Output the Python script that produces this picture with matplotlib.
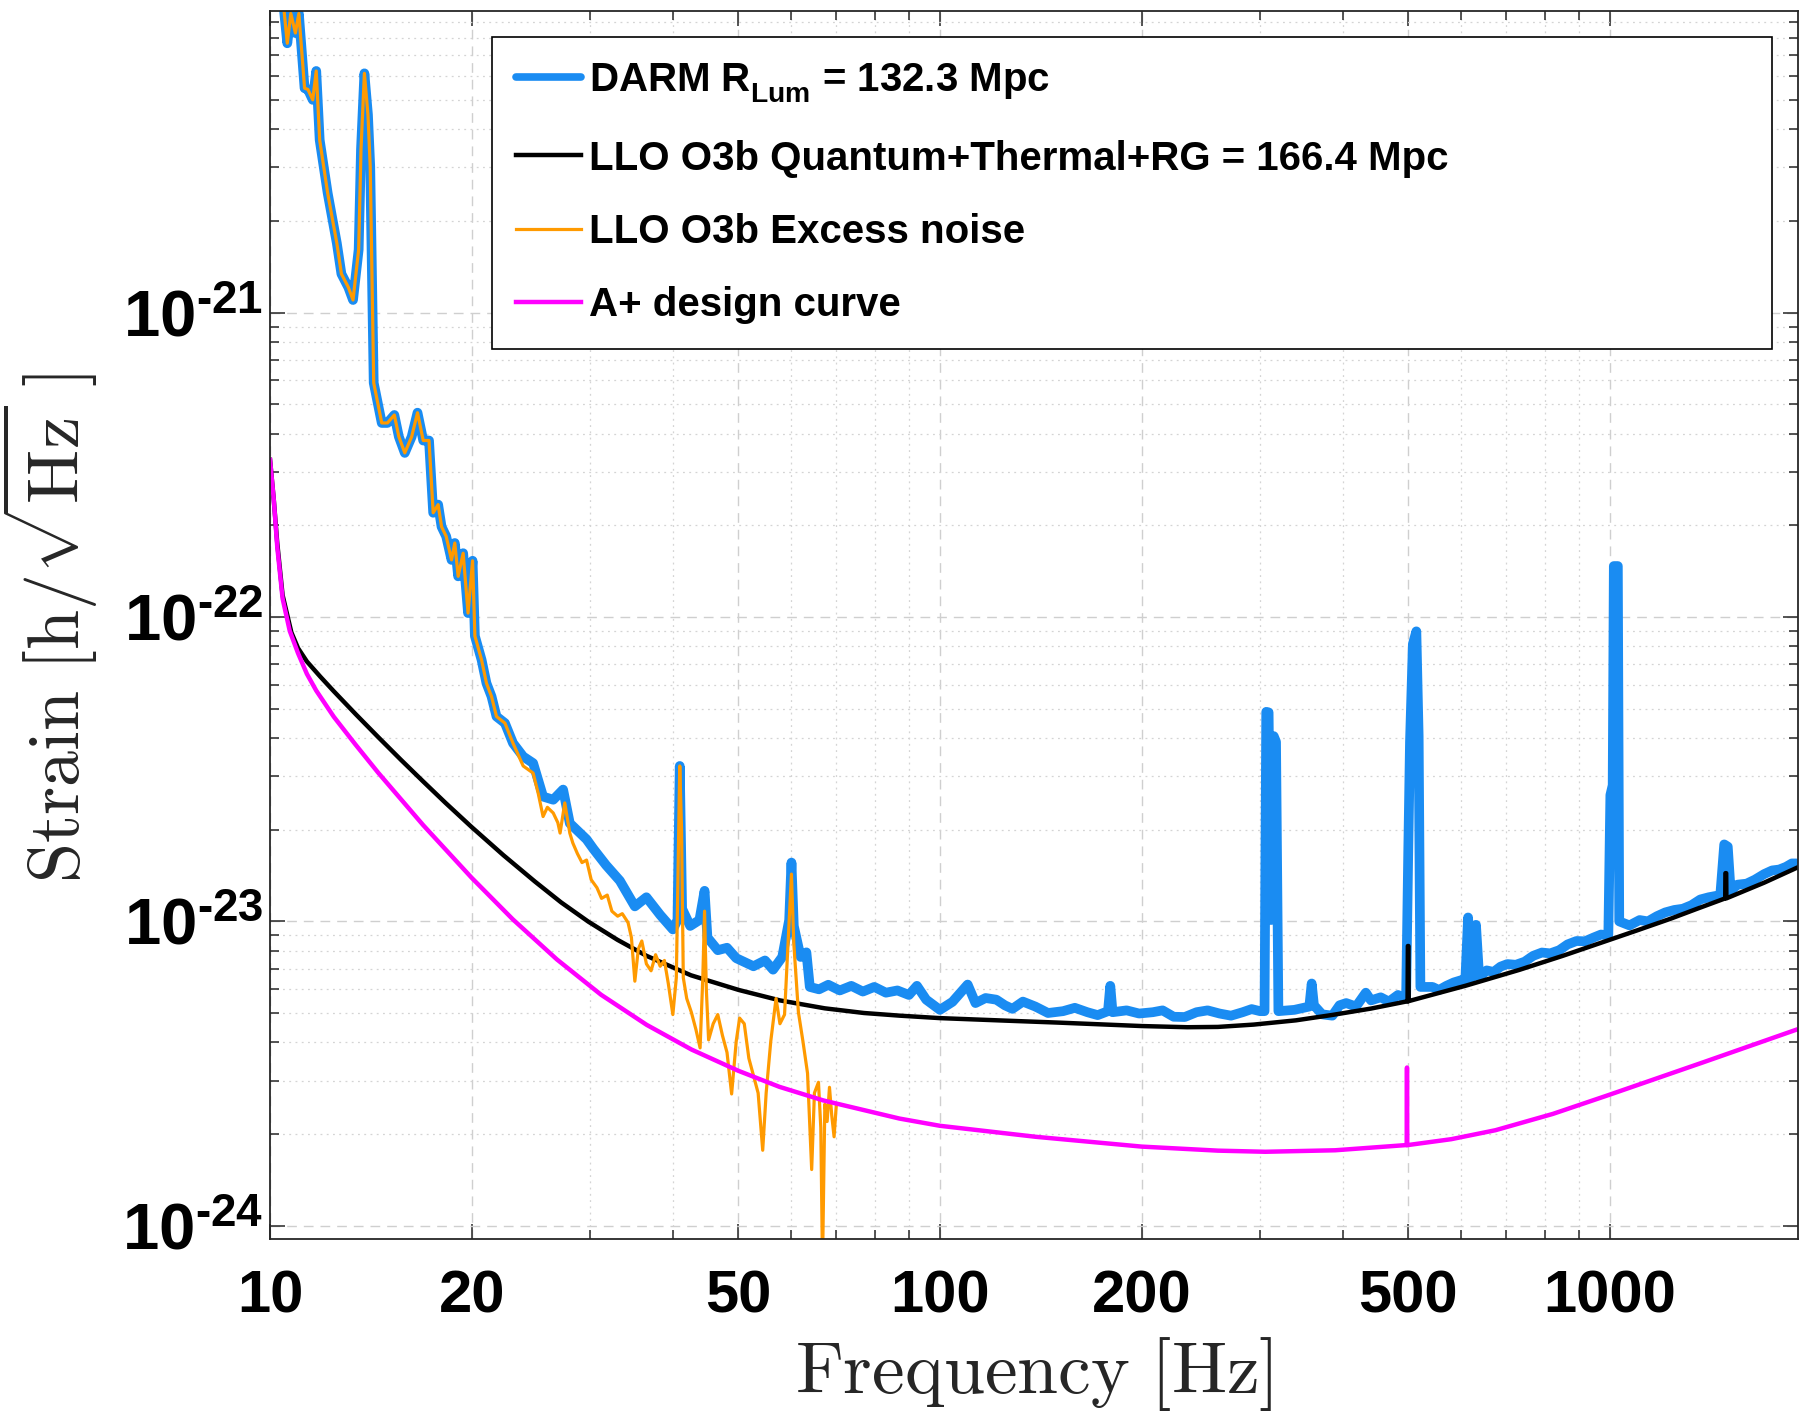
import matplotlib
matplotlib.use('Agg')
import numpy as np
import matplotlib.pyplot as plt
from matplotlib.ticker import LogLocator, NullFormatter, FuncFormatter
from matplotlib.font_manager import FontProperties

plt.rcParams['mathtext.fontset'] = 'custom'
plt.rcParams['mathtext.rm'] = 'Liberation Sans'
plt.rcParams['mathtext.bf'] = 'Liberation Sans:bold'

# ── DARM measured strain ─────────────────────────────────────────
darm_freq = [
    10.32, 10.49, 10.61, 10.74, 10.91, 11.04, 11.26, 11.39, 11.58, 11.72,
    11.86, 12.19, 12.58, 12.78, 13.09, 13.30, 13.56, 13.67, 13.83, 14.00,
    14.11, 14.28, 14.68, 14.97, 15.33, 15.57, 15.89, 16.27, 16.60, 16.93,
    17.27, 17.52, 17.82, 18.03, 18.32, 18.66, 18.87, 19.09, 19.42, 19.75,
    20.06, 20.22, 20.69, 21.04, 21.41, 21.78, 22.42, 23.05, 23.87, 24.70,
    25.56, 26.47, 27.38, 28.02, 29.68, 30.39, 31.74, 33.28, 35.04, 36.46,
    38.23, 39.93, 40.57, 40.89, 41.22, 42.38, 43.75, 44.53, 44.97, 46.60,
    48.10, 49.65, 52.68, 54.81, 56.35, 58.16, 59.56, 60.03, 60.51, 61.95,
    63.19, 63.94, 66.00, 68.13, 70.88, 73.74, 76.72, 79.81, 83.06, 86.4,
    89.9, 92.4, 95.4, 100.0, 104.4, 110.0, 113.0, 117.0, 121.4, 125.0,
    128.3, 133.0, 138.8, 145.0, 152.7, 159.0, 166.0, 172.0, 178.2, 179.6,
    181.0, 190.0, 198.3, 207.9, 215.0, 223.3, 232.0, 241.6, 251.0, 261.5,
    272.0, 283.1, 292.0, 300.5, 305.2, 307.0, 309.5, 311.9, 315.0, 317.5,
    320.1, 338.1, 356.0, 358.9, 361.7, 372.0, 385.3, 395.0, 404.1, 418.0,
    432.3, 440.0, 455.0, 468.0, 482.8, 496.5, 500.2, 503.2, 508.2, 514.3,
    518.4, 521.5, 543.6, 556.0, 570.2, 585.0, 600.3, 608.6, 614.4, 619.7,
    631.3, 638.3, 655.0, 670.7, 687.0, 703.3, 724.0, 746.3, 768.0, 791.8,
    815.0, 840.4, 865.0, 891.8, 918.0, 946.0, 970.0, 995.0, 1002.0, 1010.0,
    1014.0, 1028.0, 1033.0, 1070.0, 1108.0, 1140.0, 1176.0, 1210.0, 1248.0, 1285.0,
    1324.0, 1365.0, 1405.0, 1462.0, 1482.0, 1500.0, 1515.0, 1551.0, 1600.0, 1646.0,
    1700.0, 1747.0, 1790.0, 1832.0, 1870.0, 1899.0,
]
darm_strain = [
    1.16e-20, 9.87e-21, 7.67e-21, 9.61e-21, 8.29e-21, 9.61e-21, 5.46e-21, 5.41e-21, 5.00e-21, 6.22e-21,
    3.69e-21, 2.47e-21, 1.69e-21, 1.34e-21, 1.21e-21, 1.10e-21, 1.61e-21, 3.44e-21, 6.11e-21, 4.47e-21,
    3.02e-21, 5.88e-22, 4.34e-22, 4.34e-22, 4.61e-22, 3.91e-22, 3.46e-22, 3.91e-22, 4.69e-22, 3.80e-22,
    3.80e-22, 2.20e-22, 2.34e-22, 1.98e-22, 1.84e-22, 1.54e-22, 1.75e-22, 1.36e-22, 1.62e-22, 1.03e-22,
    1.53e-22, 8.66e-23, 7.23e-23, 6.06e-23, 5.48e-23, 4.71e-23, 4.48e-23, 3.85e-23, 3.48e-23, 3.31e-23,
    2.57e-23, 2.51e-23, 2.71e-23, 2.10e-23, 1.86e-23, 1.73e-23, 1.53e-23, 1.36e-23, 1.12e-23, 1.20e-23,
    1.05e-23, 9.41e-24, 1.01e-23, 3.24e-23, 1.10e-23, 9.66e-24, 1.01e-23, 1.26e-23, 8.85e-24, 8.04e-24,
    8.19e-24, 7.57e-24, 7.12e-24, 7.44e-24, 6.94e-24, 7.64e-24, 1.01e-23, 1.56e-23, 9.66e-24, 7.64e-24,
    7.91e-24, 6.09e-24, 5.98e-24, 6.19e-24, 5.93e-24, 6.14e-24, 5.88e-24, 6.09e-24, 5.83e-24, 5.93e-24,
    5.73e-24, 6.14e-24, 5.53e-24, 5.12e-24, 5.44e-24, 6.20e-24, 5.39e-24, 5.60e-24, 5.53e-24, 5.30e-24,
    5.16e-24, 5.45e-24, 5.25e-24, 5.00e-24, 5.07e-24, 5.20e-24, 5.03e-24, 4.92e-24, 5.07e-24, 6.14e-24,
    5.03e-24, 5.10e-24, 4.98e-24, 5.03e-24, 5.10e-24, 4.86e-24, 4.85e-24, 5.03e-24, 5.10e-24, 4.98e-24,
    4.90e-24, 5.03e-24, 5.15e-24, 5.07e-24, 5.07e-24, 4.88e-23, 4.86e-23, 1.01e-23, 4.06e-23, 3.89e-23,
    5.07e-24, 5.12e-24, 5.25e-24, 6.25e-24, 5.30e-24, 4.95e-24, 4.90e-24, 5.30e-24, 5.39e-24, 5.25e-24,
    5.83e-24, 5.50e-24, 5.63e-24, 5.45e-24, 5.73e-24, 5.58e-24, 1.70e-23, 3.89e-23, 8.15e-23, 8.97e-23,
    4.06e-23, 6.09e-24, 6.09e-24, 5.95e-24, 6.14e-24, 6.30e-24, 6.41e-24, 6.41e-24, 1.03e-23, 6.47e-24,
    9.74e-24, 6.53e-24, 6.90e-24, 6.82e-24, 7.10e-24, 7.24e-24, 7.20e-24, 7.37e-24, 7.70e-24, 7.90e-24,
    7.85e-24, 8.04e-24, 8.40e-24, 8.62e-24, 8.60e-24, 8.85e-24, 9.05e-24, 9.00e-24, 2.60e-23, 2.80e-23,
    1.47e-22, 1.47e-22, 1.00e-23, 9.70e-24, 1.01e-23, 1.00e-23, 1.04e-23, 1.07e-23, 1.09e-23, 1.10e-23,
    1.13e-23, 1.18e-23, 1.20e-23, 1.22e-23, 1.79e-23, 1.76e-23, 1.26e-23, 1.32e-23, 1.33e-23, 1.37e-23,
    1.43e-23, 1.47e-23, 1.48e-23, 1.51e-23, 1.55e-23, 1.55e-23,
]

# ── LLO O3b Quantum+Thermal+RG model ─────────────────────────────
model_freq = [
    10.0, 10.13, 10.25, 10.44, 10.76, 11.01, 11.35, 11.89, 12.45, 13.44,
    14.52, 15.69, 16.93, 18.28, 20.0, 22.3, 24.87, 27.2, 29.86, 33.0,
    36.5, 42.5, 50.1, 57.7, 67.3, 77.0, 87.1, 100.0, 125.0, 150.0,
    200.0, 234.0, 260.0, 294.0, 340.0, 386.0, 440.0, 496.0, 499.0, 499.5,
    500.5, 501.0, 521.0, 610.0, 733.0, 850.0, 1000.0, 1100.0, 1232.0, 1350.0,
    1487.0, 1488.0, 1492.0, 1493.0, 1700.0, 1902.0,
]
model_strain = [
    3.28e-22, 2.42e-22, 1.75e-22, 1.18e-22, 8.90e-23, 7.90e-23, 7.14e-23, 6.36e-23, 5.70e-23, 4.78e-23,
    4.02e-23, 3.39e-23, 2.88e-23, 2.45e-23, 2.04e-23, 1.65e-23, 1.35e-23, 1.154e-23, 9.98e-24, 8.70e-24,
    7.70e-24, 6.65e-24, 5.95e-24, 5.50e-24, 5.18e-24, 5.00e-24, 4.90e-24, 4.81e-24, 4.72e-24, 4.65e-24,
    4.53e-24, 4.49e-24, 4.50e-24, 4.58e-24, 4.73e-24, 4.93e-24, 5.17e-24, 5.45e-24, 5.45e-24, 8.30e-24,
    8.30e-24, 5.47e-24, 5.60e-24, 6.15e-24, 6.93e-24, 7.70e-24, 8.70e-24, 9.35e-24, 1.02e-23, 1.10e-23,
    1.19e-23, 1.44e-23, 1.44e-23, 1.19e-23, 1.34e-23, 1.50e-23,
]

# ── LLO O3b excess noise ─────────────────────────────────────────
excess_freq = [
    10.32, 10.49, 10.61, 10.74, 10.91, 11.04, 11.26, 11.39, 11.58, 11.72,
    11.86, 12.19, 12.58, 12.78, 13.09, 13.30, 13.56, 13.67, 13.83, 14.00,
    14.11, 14.28, 14.68, 14.97, 15.33, 15.57, 15.89, 16.27, 16.60, 16.93,
    17.27, 17.52, 17.82, 18.03, 18.32, 18.66, 18.87, 19.09, 19.42, 19.75,
    20.06, 20.22, 20.69, 21.04, 21.41, 21.78, 22.42, 23.05, 23.87, 24.70,
    25.14, 25.56, 25.94, 26.47, 26.89, 27.10, 27.54, 28.02, 28.31, 28.76,
    29.22, 29.68, 30.16, 30.76, 31.25, 31.87, 32.38, 33.03, 33.56, 34.23,
    34.63, 35.04, 35.46, 35.89, 36.46, 37.05, 37.63, 38.23, 38.79, 39.31,
    39.93, 40.41, 40.74, 40.89, 41.14, 41.39, 41.88, 42.55, 43.23, 43.85,
    44.26, 44.53, 44.80, 45.15, 45.87, 46.60, 47.35, 48.10, 48.87, 49.65,
    50.23, 51.04, 51.85, 52.68, 53.53, 54.38, 55.03, 55.91, 56.93, 57.70,
    58.62, 59.56, 60.03, 60.51, 61.48, 62.44, 63.44, 64.35, 64.96, 65.87,
    66.40, 66.79, 67.33, 67.86, 68.41, 68.95, 69.50, 70.05,
]
excess_strain = [
    1.16e-20, 9.87e-21, 7.67e-21, 9.61e-21, 8.29e-21, 9.61e-21, 5.46e-21, 5.41e-21, 5.00e-21, 6.22e-21,
    3.69e-21, 2.47e-21, 1.69e-21, 1.34e-21, 1.21e-21, 1.10e-21, 1.61e-21, 3.44e-21, 6.11e-21, 4.47e-21,
    3.02e-21, 5.88e-22, 4.34e-22, 4.34e-22, 4.61e-22, 3.91e-22, 3.46e-22, 3.91e-22, 4.69e-22, 3.80e-22,
    3.80e-22, 2.20e-22, 2.34e-22, 1.98e-22, 1.84e-22, 1.54e-22, 1.75e-22, 1.36e-22, 1.62e-22, 1.03e-22,
    1.53e-22, 8.66e-23, 7.23e-23, 6.06e-23, 5.48e-23, 4.71e-23, 4.48e-23, 3.85e-23, 3.24e-23, 3.07e-23,
    2.63e-23, 2.21e-23, 2.37e-23, 2.27e-23, 2.11e-23, 1.95e-23, 2.45e-23, 1.95e-23, 1.81e-23, 1.67e-23,
    1.56e-23, 1.59e-23, 1.37e-23, 1.29e-23, 1.19e-23, 1.22e-23, 1.08e-23, 1.04e-23, 1.06e-23, 9.91e-24,
    8.85e-24, 6.36e-24, 8.11e-24, 8.62e-24, 7.25e-24, 6.88e-24, 7.77e-24, 7.12e-24, 7.44e-24, 6.25e-24,
    4.94e-24, 6.53e-24, 2.02e-23, 3.24e-23, 2.02e-23, 6.53e-24, 5.58e-24, 5.03e-24, 4.41e-24, 3.84e-24,
    6.53e-24, 1.08e-23, 5.98e-24, 4.08e-24, 4.61e-24, 4.94e-24, 4.22e-24, 3.71e-24, 2.71e-24, 4.04e-24,
    4.81e-24, 4.61e-24, 3.55e-24, 3.11e-24, 2.73e-24, 1.77e-24, 2.73e-24, 4.04e-24, 5.58e-24, 4.61e-24,
    4.94e-24, 1.01e-23, 1.43e-23, 8.48e-24, 5.03e-24, 4.04e-24, 3.17e-24, 1.53e-24, 2.73e-24, 2.96e-24,
    2.10e-24, 7.40e-25, 2.51e-24, 2.20e-24, 2.85e-24, 2.30e-24, 1.96e-24, 2.51e-24,
]

# ── A+ design curve ──────────────────────────────────────────────
aplus_freq = [
    10.0, 10.13, 10.25, 10.44, 10.7, 11.01, 11.35, 11.72, 12.45, 13.4,
    14.5, 16.93, 20.0, 23.04, 26.8, 31.2, 36.5, 42.6, 50.0, 57.6,
    67.0, 87.0, 100.0, 139.0, 200.0, 260.0, 306.0, 389.0, 495.0, 497.5,
    498.0, 498.5, 580.0, 675.0, 822.0, 992.0, 1377.0, 1895.0,
]
aplus_strain = [
    3.28e-22, 2.42e-22, 1.70e-22, 1.15e-22, 9.00e-23, 7.60e-23, 6.50e-23, 5.73e-23, 4.70e-23, 3.82e-23,
    3.08e-23, 2.07e-23, 1.39e-23, 1.015e-23, 7.50e-24, 5.74e-24, 4.57e-24, 3.79e-24, 3.23e-24, 2.86e-24,
    2.58e-24, 2.25e-24, 2.13e-24, 1.96e-24, 1.82e-24, 1.765e-24, 1.75e-24, 1.77e-24, 1.84e-24, 1.84e-24,
    3.31e-24, 1.84e-24, 1.925e-24, 2.06e-24, 2.33e-24, 2.68e-24, 3.44e-24, 4.40e-24,
]

series_labels = [
    r'DARM R$^{}_{\mathbf{Lum}}$ = 132.3 Mpc',
    'LLO O3b Quantum+Thermal+RG = 166.4 Mpc',
    'LLO O3b Excess noise',
    'A+ design curve',
]
xtick_values = [10, 20, 50, 100, 200, 500, 1000]
ytick_values = [1e-24, 1e-23, 1e-22, 1e-21]

# ── Figure ───────────────────────────────────────────────────────
fig = plt.figure(figsize=(18.04, 14.14), dpi=100)
ax = fig.add_axes([0.1497, 0.1238, 0.8470, 0.8685])

ax.loglog(darm_freq, darm_strain, color='#1a8cf2', lw=7,
          solid_joinstyle='round', solid_capstyle='round', label=series_labels[0])
ax.loglog(model_freq, model_strain, color='black', lw=3.2, label=series_labels[1])
ax.loglog(excess_freq, excess_strain, color='#ff9a00', lw=2.3, label=series_labels[2])
ax.loglog(aplus_freq, aplus_strain, color='#ff00ff', lw=3.2, label=series_labels[3])

ax.set_xlim(10, 1910)
ax.set_ylim(9.05e-25, 9.8e-21)

# ticks
ax.set_xticks(xtick_values)
ax.set_xticklabels([str(v) for v in xtick_values])
ax.xaxis.set_minor_locator(LogLocator(base=10, subs=np.arange(2, 10)))
ax.xaxis.set_minor_formatter(NullFormatter())
ax.set_yticks(ytick_values)
# MATLAB writes the exponent with a plain hyphen, not a minus sign
ax.yaxis.set_major_formatter(FuncFormatter(
    lambda v, p: '$\\mathbf{10^{\u2010%d}}$' % abs(round(np.log10(v)))))
ax.yaxis.set_minor_locator(LogLocator(base=10, subs=np.arange(2, 10), numticks=20))
ax.yaxis.set_minor_formatter(NullFormatter())

for lab in ax.get_xticklabels():
    lab.set_fontproperties(FontProperties(family='Liberation Sans', weight='bold', size=43))
for lab in ax.get_yticklabels():
    lab.set_fontproperties(FontProperties(family='Liberation Sans', weight='bold', size=47))

ax.tick_params(which='both', direction='in', top=True, right=True, color='#262626', width=1.1)
ax.tick_params(which='major', length=11)
ax.tick_params(which='minor', length=6.5)
ax.tick_params(axis='x', which='major', pad=22)
ax.tick_params(axis='y', which='major', pad=5)

for sp in ax.spines.values():
    sp.set_color('#262626')
    sp.set_linewidth(1.3)

# grid (MATLAB style)
ax.grid(True, which='major', color='#cfcfcf', linestyle=(0, (7, 5)), linewidth=1.0)
ax.grid(True, which='minor', color='#d4d4d4', linestyle=(0, (1.5, 3.5)), linewidth=0.9)
ax.set_axisbelow(True)

# axis labels
ax.set_xlabel(r'$\mathrm{Frequency\ [Hz]}$', fontsize=53, math_fontfamily='cm', color='#262626')
ax.set_ylabel(r'$\mathrm{Strain}\ [\mathrm{h}/\sqrt{\mathrm{Hz}}\ ]$', fontsize=52,
              math_fontfamily='cm', color='#262626')
ax.xaxis.set_label_coords(0.5, -0.078)
ax.yaxis.set_label_coords(-0.111, 0.497)

# legend
leg = ax.legend(loc='upper left', bbox_to_anchor=(0.1453, 0.7296, 0.8377, 0.2492), mode='expand',
                prop=FontProperties(family='Liberation Sans', weight='bold', size=29),
                frameon=True, fancybox=False, framealpha=1, edgecolor='black',
                borderpad=0.6, borderaxespad=0, handlelength=1.6, handletextpad=0.2,
                labelspacing=0.88)
leg.get_frame().set_linewidth(1.2)
leg.get_lines()[0].set_linewidth(5.5)

fig.savefig('out.png', dpi=100, facecolor='white')
